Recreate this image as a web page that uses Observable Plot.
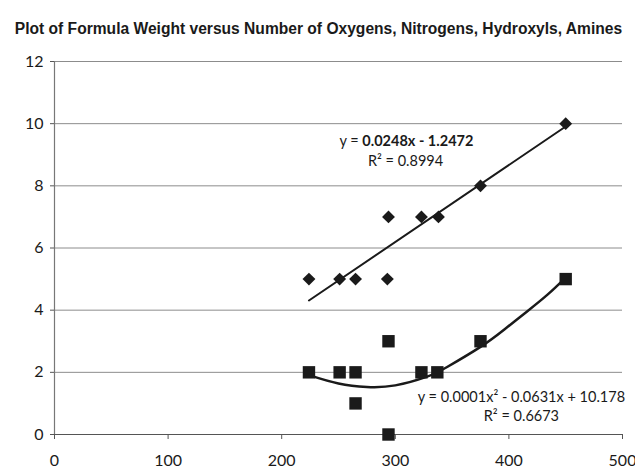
<!DOCTYPE html>
<html>
<head>
<meta charset="utf-8">
<script src="https://cdn.jsdelivr.net/npm/d3@7"></script>
<script src="https://cdn.jsdelivr.net/npm/@observablehq/plot@0.6"></script>
<style>
  html, body { margin: 0; padding: 0; background: #fff; }
  #wrap { width: 635px; height: 468px; position: relative; overflow: hidden; }
  #title { position: absolute; left: 0; top: 20px; width: 637px; text-align: center; white-space: nowrap;
           font-family: "Liberation Sans", Arial, sans-serif; font-weight: bold; font-size: 15.6px; color: #1a1a1a; }
  #chart { position: absolute; left: 0; top: 45px; }
</style>
</head>
<body>
<div id="wrap">
  <div id="title">Plot of Formula Weight versus Number of Oxygens, Nitrogens, Hydroxyls, Amines</div>
  <div id="chart"></div>
</div>
<script>
// Series 1: diamonds (oxygens/nitrogens count)
const diamondX = [224, 251, 265, 293, 294, 323, 338, 375, 450];
const diamondY = [5, 5, 5, 5, 7, 7, 7, 8, 10];
// Series 2: squares (hydroxyls/amines count)
const squareX = [224, 251, 265, 265, 294, 294, 323, 337, 375, 450];
const squareY = [2, 2, 2, 1, 3, 0, 2, 2, 3, 5];
// Linear trendline endpoints
const linTrendX = [224, 450];
const linTrendY = [4.31, 9.91];
// Polynomial trendline points
const polyTrendX = [224, 250, 275, 300, 328, 346, 375, 396, 416, 434, 450];
const polyTrendY = [1.91, 1.64, 1.53, 1.58, 1.86, 2.18, 2.82, 3.38, 3.96, 4.5, 5.05];
// Axis ticks
const xTicks = [0, 100, 200, 300, 400, 500];
const yTicks = [0, 2, 4, 6, 8, 10, 12];
// Annotation labels
const linEqPrefix = "y = ";
const linEqBold = "0.0248x - 1.2472";
const linR2 = "R² = 0.8994";
const polyEq = "y = 0.0001x² - 0.0631x + 10.178";
const polyR2 = "R² = 0.6673";

const diamonds = diamondX.map((x, i) => ({x, y: diamondY[i]}));
const squares = squareX.map((x, i) => ({x, y: squareY[i]}));
const lin = linTrendX.map((x, i) => ({x, y: linTrendY[i]}));
const poly = polyTrendX.map((x, i) => ({x, y: polyTrendY[i]}));

const font = "Lato, 'Open Sans', sans-serif";
const ink = "#1a1a1a";

const chart = Plot.plot({
  width: 635,
  height: 423,
  marginTop: 16,
  marginBottom: 34,
  marginLeft: 54,
  marginRight: 13,
  style: {fontFamily: font, fontSize: "16px", color: ink, background: "transparent"},
  x: {domain: [0, 500], ticks: xTicks},
  y: {domain: [0, 12], ticks: yTicks},
  marks: [
    Plot.ruleY(yTicks, {stroke: "#8c8c8c", strokeWidth: 1, x1: 0, x2: 500}),
    Plot.ruleY([0], {stroke: "#555", strokeWidth: 1.2}),
    Plot.ruleX([0], {stroke: "#777", strokeWidth: 1.2}),
    Plot.axisX({ticks: xTicks, tickSize: 5, tickPadding: 15, tickFormat: d => String(d), label: null, stroke: "#555", fontSize: 16}),
    Plot.axisY({ticks: yTicks, tickSize: 4, tickPadding: 7, tickFormat: d => String(d), label: null, stroke: "#555", fontSize: 16}),
    Plot.line(lin, {x: "x", y: "y", stroke: ink, strokeWidth: 2}),
    Plot.line(poly, {x: "x", y: "y", stroke: ink, strokeWidth: 2.5, curve: "natural"}),
    Plot.dot(diamonds, {x: "x", y: "y", symbol: "diamond2", r: 5.8, fill: ink, stroke: "none"}),
    Plot.dot(squares, {x: "x", y: "y", symbol: "square", r: 7, fill: ink, stroke: "none"}),
    Plot.text([linEqPrefix], {x: 271, y: 9.43, text: d => d, textAnchor: "end", fontSize: 14.5, fill: ink}),
    Plot.text([linEqBold], {x: 271, y: 9.43, text: d => d, textAnchor: "start", fontSize: 14.5, fontWeight: "bold", fill: ink}),
    Plot.text([linR2], {x: 309, y: 8.8, text: d => d, fontSize: 14.5, fill: ink}),
    Plot.text([polyEq], {x: 411, y: 1.2, text: d => d, fontSize: 14.5, fill: ink}),
    Plot.text([polyR2], {x: 411, y: 0.58, text: d => d, fontSize: 14.5, fill: ink})
  ]
});
document.getElementById("chart").appendChild(chart);
</script>
</body>
</html>
